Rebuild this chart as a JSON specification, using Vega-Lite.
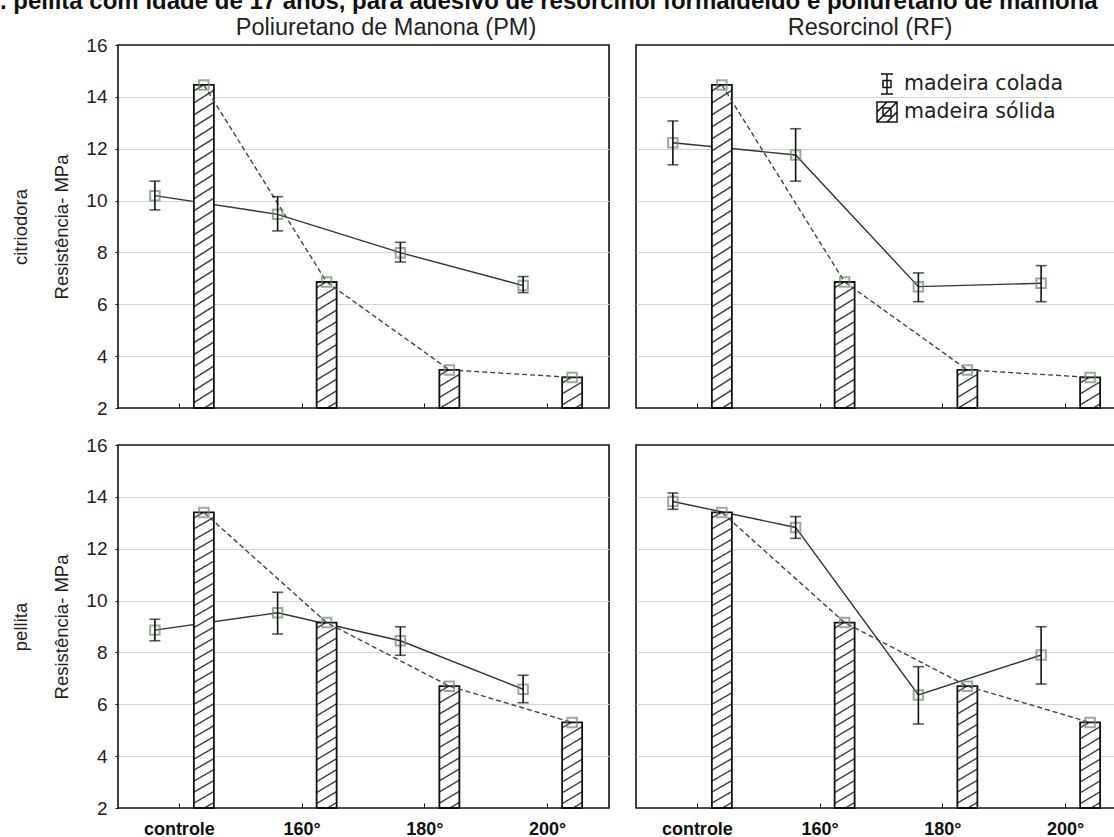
{
  "$schema": "https://vega.github.io/schema/vega-lite/v6.json",
  "background": "white",
  "padding": {"left": -16, "top": -11, "right": -13, "bottom": -3},
  "params": [
    {"name": "gA", "value": {"gradient": "linear", "x1": 0, "y1": 0, "x2": 0.0405, "y2": 1.0374, "stops": [
      {"offset":0.0132,"color":"#fff"},{"offset":0.0179,"color":"#222"},{"offset":0.0225,"color":"#fff"},
      {"offset":0.0489,"color":"#fff"},{"offset":0.0536,"color":"#222"},{"offset":0.0582,"color":"#fff"},
      {"offset":0.0846,"color":"#fff"},{"offset":0.0893,"color":"#222"},{"offset":0.0939,"color":"#fff"},
      {"offset":0.1204,"color":"#fff"},{"offset":0.125,"color":"#222"},{"offset":0.1296,"color":"#fff"},
      {"offset":0.1561,"color":"#fff"},{"offset":0.1607,"color":"#222"},{"offset":0.1654,"color":"#fff"},
      {"offset":0.1918,"color":"#fff"},{"offset":0.1964,"color":"#222"},{"offset":0.2011,"color":"#fff"},
      {"offset":0.2275,"color":"#fff"},{"offset":0.2321,"color":"#222"},{"offset":0.2368,"color":"#fff"},
      {"offset":0.2632,"color":"#fff"},{"offset":0.2679,"color":"#222"},{"offset":0.2725,"color":"#fff"},
      {"offset":0.2989,"color":"#fff"},{"offset":0.3036,"color":"#222"},{"offset":0.3082,"color":"#fff"},
      {"offset":0.3346,"color":"#fff"},{"offset":0.3393,"color":"#222"},{"offset":0.3439,"color":"#fff"},
      {"offset":0.3704,"color":"#fff"},{"offset":0.375,"color":"#222"},{"offset":0.3796,"color":"#fff"},
      {"offset":0.4061,"color":"#fff"},{"offset":0.4107,"color":"#222"},{"offset":0.4154,"color":"#fff"},
      {"offset":0.4418,"color":"#fff"},{"offset":0.4464,"color":"#222"},{"offset":0.4511,"color":"#fff"},
      {"offset":0.4775,"color":"#fff"},{"offset":0.4821,"color":"#222"},{"offset":0.4868,"color":"#fff"},
      {"offset":0.5132,"color":"#fff"},{"offset":0.5179,"color":"#222"},{"offset":0.5225,"color":"#fff"},
      {"offset":0.5489,"color":"#fff"},{"offset":0.5536,"color":"#222"},{"offset":0.5582,"color":"#fff"},
      {"offset":0.5846,"color":"#fff"},{"offset":0.5893,"color":"#222"},{"offset":0.5939,"color":"#fff"},
      {"offset":0.6204,"color":"#fff"},{"offset":0.625,"color":"#222"},{"offset":0.6296,"color":"#fff"},
      {"offset":0.6561,"color":"#fff"},{"offset":0.6607,"color":"#222"},{"offset":0.6654,"color":"#fff"},
      {"offset":0.6918,"color":"#fff"},{"offset":0.6964,"color":"#222"},{"offset":0.7011,"color":"#fff"},
      {"offset":0.7275,"color":"#fff"},{"offset":0.7321,"color":"#222"},{"offset":0.7368,"color":"#fff"},
      {"offset":0.7632,"color":"#fff"},{"offset":0.7679,"color":"#222"},{"offset":0.7725,"color":"#fff"},
      {"offset":0.7989,"color":"#fff"},{"offset":0.8036,"color":"#222"},{"offset":0.8082,"color":"#fff"},
      {"offset":0.8346,"color":"#fff"},{"offset":0.8393,"color":"#222"},{"offset":0.8439,"color":"#fff"},
      {"offset":0.8704,"color":"#fff"},{"offset":0.875,"color":"#222"},{"offset":0.8796,"color":"#fff"},
      {"offset":0.9061,"color":"#fff"},{"offset":0.9107,"color":"#222"},{"offset":0.9154,"color":"#fff"},
      {"offset":0.9418,"color":"#fff"},{"offset":0.9464,"color":"#222"},{"offset":0.9511,"color":"#fff"},
      {"offset":0.9775,"color":"#fff"},{"offset":0.9821,"color":"#222"},{"offset":0.9868,"color":"#fff"}
    ]}},
    {"name": "gB", "value": {"gradient": "linear", "x1": 0, "y1": 0, "x2": 0.0686, "y2": 1.0603, "stops": [
      {"offset":0.0206,"color":"#fff"},{"offset":0.0278,"color":"#222"},{"offset":0.035,"color":"#fff"},
      {"offset":0.0761,"color":"#fff"},{"offset":0.0833,"color":"#222"},{"offset":0.0906,"color":"#fff"},
      {"offset":0.1317,"color":"#fff"},{"offset":0.1389,"color":"#222"},{"offset":0.1461,"color":"#fff"},
      {"offset":0.1872,"color":"#fff"},{"offset":0.1944,"color":"#222"},{"offset":0.2017,"color":"#fff"},
      {"offset":0.2428,"color":"#fff"},{"offset":0.25,"color":"#222"},{"offset":0.2572,"color":"#fff"},
      {"offset":0.2983,"color":"#fff"},{"offset":0.3056,"color":"#222"},{"offset":0.3128,"color":"#fff"},
      {"offset":0.3539,"color":"#fff"},{"offset":0.3611,"color":"#222"},{"offset":0.3683,"color":"#fff"},
      {"offset":0.4094,"color":"#fff"},{"offset":0.4167,"color":"#222"},{"offset":0.4239,"color":"#fff"},
      {"offset":0.465,"color":"#fff"},{"offset":0.4722,"color":"#222"},{"offset":0.4794,"color":"#fff"},
      {"offset":0.5206,"color":"#fff"},{"offset":0.5278,"color":"#222"},{"offset":0.535,"color":"#fff"},
      {"offset":0.5761,"color":"#fff"},{"offset":0.5833,"color":"#222"},{"offset":0.5906,"color":"#fff"},
      {"offset":0.6317,"color":"#fff"},{"offset":0.6389,"color":"#222"},{"offset":0.6461,"color":"#fff"},
      {"offset":0.6872,"color":"#fff"},{"offset":0.6944,"color":"#222"},{"offset":0.7017,"color":"#fff"},
      {"offset":0.7428,"color":"#fff"},{"offset":0.75,"color":"#222"},{"offset":0.7572,"color":"#fff"},
      {"offset":0.7983,"color":"#fff"},{"offset":0.8056,"color":"#222"},{"offset":0.8128,"color":"#fff"},
      {"offset":0.8539,"color":"#fff"},{"offset":0.8611,"color":"#222"},{"offset":0.8683,"color":"#fff"},
      {"offset":0.9094,"color":"#fff"},{"offset":0.9167,"color":"#222"},{"offset":0.9239,"color":"#fff"},
      {"offset":0.965,"color":"#fff"},{"offset":0.9722,"color":"#222"},{"offset":0.9794,"color":"#fff"}
    ]}},
    {"name": "gC", "value": {"gradient": "linear", "x1": 0, "y1": 0, "x2": 0.1054, "y2": 1.0868, "stops": [
      {"offset":0.0309,"color":"#fff"},{"offset":0.0417,"color":"#222"},{"offset":0.0525,"color":"#fff"},
      {"offset":0.1142,"color":"#fff"},{"offset":0.125,"color":"#222"},{"offset":0.1358,"color":"#fff"},
      {"offset":0.1975,"color":"#fff"},{"offset":0.2083,"color":"#222"},{"offset":0.2191,"color":"#fff"},
      {"offset":0.2809,"color":"#fff"},{"offset":0.2917,"color":"#222"},{"offset":0.3025,"color":"#fff"},
      {"offset":0.3642,"color":"#fff"},{"offset":0.375,"color":"#222"},{"offset":0.3858,"color":"#fff"},
      {"offset":0.4475,"color":"#fff"},{"offset":0.4583,"color":"#222"},{"offset":0.4691,"color":"#fff"},
      {"offset":0.5309,"color":"#fff"},{"offset":0.5417,"color":"#222"},{"offset":0.5525,"color":"#fff"},
      {"offset":0.6142,"color":"#fff"},{"offset":0.625,"color":"#222"},{"offset":0.6358,"color":"#fff"},
      {"offset":0.6975,"color":"#fff"},{"offset":0.7083,"color":"#222"},{"offset":0.7191,"color":"#fff"},
      {"offset":0.7809,"color":"#fff"},{"offset":0.7917,"color":"#222"},{"offset":0.8025,"color":"#fff"},
      {"offset":0.8642,"color":"#fff"},{"offset":0.875,"color":"#222"},{"offset":0.8858,"color":"#fff"},
      {"offset":0.9475,"color":"#fff"},{"offset":0.9583,"color":"#222"},{"offset":0.9691,"color":"#fff"}
    ]}},
    {"name": "gD", "value": {"gradient": "linear", "x1": 0, "y1": 0, "x2": 0.1565, "y2": 1.118, "stops": [
      {"offset":0.0412,"color":"#fff"},{"offset":0.0556,"color":"#222"},{"offset":0.07,"color":"#fff"},
      {"offset":0.1523,"color":"#fff"},{"offset":0.1667,"color":"#222"},{"offset":0.1811,"color":"#fff"},
      {"offset":0.2634,"color":"#fff"},{"offset":0.2778,"color":"#222"},{"offset":0.2922,"color":"#fff"},
      {"offset":0.3745,"color":"#fff"},{"offset":0.3889,"color":"#222"},{"offset":0.4033,"color":"#fff"},
      {"offset":0.4856,"color":"#fff"},{"offset":0.5,"color":"#222"},{"offset":0.5144,"color":"#fff"},
      {"offset":0.5967,"color":"#fff"},{"offset":0.6111,"color":"#222"},{"offset":0.6255,"color":"#fff"},
      {"offset":0.7078,"color":"#fff"},{"offset":0.7222,"color":"#222"},{"offset":0.7366,"color":"#fff"},
      {"offset":0.8189,"color":"#fff"},{"offset":0.8333,"color":"#222"},{"offset":0.8477,"color":"#fff"},
      {"offset":0.93,"color":"#fff"},{"offset":0.9444,"color":"#222"},{"offset":0.9588,"color":"#fff"}
    ]}},
    {"name": "gE", "value": {"gradient": "linear", "x1": 0, "y1": 0, "x2": 0.377, "y2": 1.196, "stops": [
      {"offset":0.0814,"color":"#fff"},{"offset":0.11,"color":"#222"},{"offset":0.1386,"color":"#fff"},
      {"offset":0.3014,"color":"#fff"},{"offset":0.33,"color":"#222"},{"offset":0.3586,"color":"#fff"},
      {"offset":0.5214,"color":"#fff"},{"offset":0.55,"color":"#222"},{"offset":0.5786,"color":"#fff"},
      {"offset":0.7414,"color":"#fff"},{"offset":0.77,"color":"#222"},{"offset":0.7986,"color":"#fff"}
    ]}},
    {"name": "gF", "value": {"gradient": "linear", "x1": 0, "y1": 0, "x2": 0.473, "y2": 1.207, "stops": [
      {"offset":0.0954,"color":"#fff"},{"offset":0.129,"color":"#222"},{"offset":0.1626,"color":"#fff"},
      {"offset":0.3534,"color":"#fff"},{"offset":0.387,"color":"#222"},{"offset":0.4206,"color":"#fff"},
      {"offset":0.6114,"color":"#fff"},{"offset":0.645,"color":"#222"},{"offset":0.6786,"color":"#fff"},
      {"offset":0.8694,"color":"#fff"},{"offset":0.903,"color":"#222"},{"offset":0.9366,"color":"#fff"}
    ]}}
  ],
  "title": {"text": "E. pellita com idade de 17 anos, para adesivo de resorcinol formaldeído e poliuretano de mamona", "font": "Liberation Sans", "fontSize": 24, "fontWeight": "bold", "color": "#111", "anchor": "start", "frame": "group", "dx": -134, "baseline": "alphabetic", "offset": -18},
  "data": {"values": [
    {"especie":"citriodora","adesivo":"PM","temp":"controle","tipo":"madeira colada","valor":10.19,"min":9.64,"max":10.75},
    {"especie":"citriodora","adesivo":"PM","temp":"160°","tipo":"madeira colada","valor":9.47,"min":8.83,"max":10.15},
    {"especie":"citriodora","adesivo":"PM","temp":"180°","tipo":"madeira colada","valor":7.99,"min":7.63,"max":8.39},
    {"especie":"citriodora","adesivo":"PM","temp":"200°","tipo":"madeira colada","valor":6.72,"min":6.45,"max":7.07},
    {"especie":"citriodora","adesivo":"PM","temp":"controle","tipo":"madeira sólida","valor":14.46},
    {"especie":"citriodora","adesivo":"PM","temp":"160°","tipo":"madeira sólida","valor":6.86},
    {"especie":"citriodora","adesivo":"PM","temp":"180°","tipo":"madeira sólida","valor":3.47},
    {"especie":"citriodora","adesivo":"PM","temp":"200°","tipo":"madeira sólida","valor":3.18},
    {"especie":"citriodora","adesivo":"RF","temp":"controle","tipo":"madeira colada","valor":12.23,"min":11.38,"max":13.07},
    {"especie":"citriodora","adesivo":"RF","temp":"160°","tipo":"madeira colada","valor":11.76,"min":10.75,"max":12.77},
    {"especie":"citriodora","adesivo":"RF","temp":"180°","tipo":"madeira colada","valor":6.68,"min":6.1,"max":7.21},
    {"especie":"citriodora","adesivo":"RF","temp":"200°","tipo":"madeira colada","valor":6.81,"min":6.1,"max":7.49},
    {"especie":"citriodora","adesivo":"RF","temp":"controle","tipo":"madeira sólida","valor":14.46},
    {"especie":"citriodora","adesivo":"RF","temp":"160°","tipo":"madeira sólida","valor":6.86},
    {"especie":"citriodora","adesivo":"RF","temp":"180°","tipo":"madeira sólida","valor":3.47},
    {"especie":"citriodora","adesivo":"RF","temp":"200°","tipo":"madeira sólida","valor":3.18},
    {"especie":"pellita","adesivo":"PM","temp":"controle","tipo":"madeira colada","valor":8.86,"min":8.45,"max":9.28},
    {"especie":"pellita","adesivo":"PM","temp":"160°","tipo":"madeira colada","valor":9.53,"min":8.71,"max":10.32},
    {"especie":"pellita","adesivo":"PM","temp":"180°","tipo":"madeira colada","valor":8.45,"min":7.89,"max":8.99},
    {"especie":"pellita","adesivo":"PM","temp":"200°","tipo":"madeira colada","valor":6.58,"min":6.06,"max":7.12},
    {"especie":"pellita","adesivo":"PM","temp":"controle","tipo":"madeira sólida","valor":13.4},
    {"especie":"pellita","adesivo":"PM","temp":"160°","tipo":"madeira sólida","valor":9.15},
    {"especie":"pellita","adesivo":"PM","temp":"180°","tipo":"madeira sólida","valor":6.7},
    {"especie":"pellita","adesivo":"PM","temp":"200°","tipo":"madeira sólida","valor":5.3},
    {"especie":"pellita","adesivo":"RF","temp":"controle","tipo":"madeira colada","valor":13.82,"min":13.52,"max":14.15},
    {"especie":"pellita","adesivo":"RF","temp":"160°","tipo":"madeira colada","valor":12.82,"min":12.4,"max":13.24},
    {"especie":"pellita","adesivo":"RF","temp":"180°","tipo":"madeira colada","valor":6.36,"min":5.24,"max":7.45},
    {"especie":"pellita","adesivo":"RF","temp":"200°","tipo":"madeira colada","valor":7.9,"min":6.78,"max":8.99},
    {"especie":"pellita","adesivo":"RF","temp":"controle","tipo":"madeira sólida","valor":13.4},
    {"especie":"pellita","adesivo":"RF","temp":"160°","tipo":"madeira sólida","valor":9.15},
    {"especie":"pellita","adesivo":"RF","temp":"180°","tipo":"madeira sólida","valor":6.7},
    {"especie":"pellita","adesivo":"RF","temp":"200°","tipo":"madeira sólida","valor":5.3}
  ]},
  "columns": 2,
  "bounds": "flush",
  "spacing": {"row": 37, "column": 27},
  "resolve": {"scale": {"shape": "independent"}, "legend": {"shape": "independent"}},
  "concat": [
    {
      "width": 491, "height": 363,
      "title": {"text": "Poliuretano de Manona (PM)", "font": "Liberation Sans", "fontSize": 23.5, "fontWeight": "normal", "color": "#222", "anchor": "middle", "frame": "group", "dx": 22.5, "baseline": "alphabetic", "offset": -22},
      "transform": [{"filter": "datum.especie === 'citriodora' && datum.adesivo === 'PM'"}],
      "encoding": {
        "x": {"field": "temp", "type": "nominal", "sort": ["controle","160°","180°","200°"], "scale": {"paddingInner": 0, "paddingOuter": 0}, "axis": {"labels": false, "title": null, "domain": false, "tickSize": -5, "tickColor": "#111"}},
        "xOffset": {"field": "tipo", "type": "nominal", "scale": {"domain": ["madeira colada","madeira sólida"], "paddingInner": 0, "paddingOuter": 0.2526}},
        "y": {"field": "valor", "type": "quantitative", "scale": {"domain": [2,16], "nice": false, "zero": false}, "axis": {"values": [2,4,6,8,10,12,14,16], "title": ["citriodora","Resistência- MPa"], "titleFontSize": 18.5, "titleFontWeight": "normal", "titleColor": "#222", "titleLineHeight": 41, "titlePadding": 14, "labelFontSize": 19, "labelColor": "#222", "labelPadding": 8, "labelFlush": false, "tickSize": 3, "tickColor": "#111", "domain": false, "grid": true, "gridColor": "#d4d4d4", "gridWidth": 1.2, "gridOpacity": {"condition": {"test": "datum.value === 2 || datum.value === 16", "value": 0}, "value": 1}}}
      },
      "layer": [
        {"transform":[{"filter":"datum.tipo === 'madeira colada'"}],"mark":{"type":"line","color":"#333","strokeWidth":1.4}},
        {"transform":[{"filter":"datum.tipo === 'madeira sólida'"}],"mark":{"type":"bar","width":20,"stroke":"#111","strokeWidth":1.8,"fill":{"expr":"datum.valor > 11 ? gA : datum.valor > 8 ? gB : datum.valor > 6 ? gC : datum.valor > 4.5 ? gD : datum.valor > 3.3 ? gE : gF"}},"encoding":{"y2":{"datum":2}}},
        {"transform":[{"filter":"datum.tipo === 'madeira sólida'"}],"mark":{"type":"line","color":"#444","strokeWidth":1.4,"strokeDash":[5,3]}},
        {"mark":{"type":"point","shape":"square","filled":false,"size":90,"color":"#6b8a6b","strokeWidth":2}},
        {"transform":[{"filter":"datum.tipo === 'madeira colada'"}],"mark":{"type":"rule","color":"#111","strokeWidth":1.6},"encoding":{"y":{"field":"min","type":"quantitative"},"y2":{"field":"max"}}},
        {"transform":[{"filter":"datum.tipo === 'madeira colada'"}],"mark":{"type":"tick","orient":"horizontal","size":11,"thickness":1.6,"color":"#111"},"encoding":{"y":{"field":"min","type":"quantitative"}}},
        {"transform":[{"filter":"datum.tipo === 'madeira colada'"}],"mark":{"type":"tick","orient":"horizontal","size":11,"thickness":1.6,"color":"#111"},"encoding":{"y":{"field":"max","type":"quantitative"}}}
      ]
    },
    {
      "width": 491, "height": 363,
      "title": {"text": "Resorcinol (RF)", "font": "Liberation Sans", "fontSize": 23.5, "fontWeight": "normal", "color": "#222", "anchor": "middle", "frame": "group", "dx": -11.5, "baseline": "alphabetic", "offset": -13},
      "transform": [{"filter": "datum.especie === 'citriodora' && datum.adesivo === 'RF'"}],
      "encoding": {
        "x": {"field": "temp", "type": "nominal", "sort": ["controle","160°","180°","200°"], "scale": {"paddingInner": 0, "paddingOuter": 0}, "axis": {"labels": false, "title": null, "domain": false, "tickSize": -5, "tickColor": "#111"}},
        "xOffset": {"field": "tipo", "type": "nominal", "scale": {"domain": ["madeira colada","madeira sólida"], "paddingInner": 0, "paddingOuter": 0.2526}},
        "y": {"field": "valor", "type": "quantitative", "scale": {"domain": [2,16], "nice": false, "zero": false}, "axis": {"values": [2,4,6,8,10,12,14,16], "title": null, "labels": false, "ticks": false, "domain": false, "grid": true, "gridColor": "#d4d4d4", "gridWidth": 1.2, "gridOpacity": {"condition": {"test": "datum.value === 2 || datum.value === 16", "value": 0}, "value": 1}}}
      },
      "layer": [
        {"transform":[{"filter":"datum.tipo === 'madeira colada'"}],"mark":{"type":"line","color":"#333","strokeWidth":1.4}},
        {"transform":[{"filter":"datum.tipo === 'madeira sólida'"}],"mark":{"type":"bar","width":20,"stroke":"#111","strokeWidth":1.8,"fill":{"expr":"datum.valor > 11 ? gA : datum.valor > 8 ? gB : datum.valor > 6 ? gC : datum.valor > 4.5 ? gD : datum.valor > 3.3 ? gE : gF"}},"encoding":{"y2":{"datum":2}}},
        {"transform":[{"filter":"datum.tipo === 'madeira sólida'"}],"mark":{"type":"line","color":"#444","strokeWidth":1.4,"strokeDash":[5,3]}},
        {"mark":{"type":"point","shape":"square","filled":false,"size":90,"color":"#6b8a6b","strokeWidth":2}},
        {"transform":[{"filter":"datum.tipo === 'madeira colada'"}],"mark":{"type":"rule","color":"#111","strokeWidth":1.6},"encoding":{"y":{"field":"min","type":"quantitative"},"y2":{"field":"max"}}},
        {"transform":[{"filter":"datum.tipo === 'madeira colada'"}],"mark":{"type":"tick","orient":"horizontal","size":11,"thickness":1.6,"color":"#111"},"encoding":{"y":{"field":"min","type":"quantitative"}}},
        {"transform":[{"filter":"datum.tipo === 'madeira colada'"}],"mark":{"type":"tick","orient":"horizontal","size":11,"thickness":1.6,"color":"#111"},"encoding":{"y":{"field":"max","type":"quantitative"}}},
        {"mark":{"type":"point","opacity":0,"filled":false},"encoding":{"shape":{"field":"tipo","type":"nominal","scale":{"domain":["madeira colada","madeira sólida"],"range":["M-0.6,-1H0.6M0,-1V1M-0.6,1H0.6M-0.4,-0.35H0.4V0.35H-0.4Z","M-1,-1H1V1H-1ZM-1,0L0,-1M-1,1L1,-1M0,1L1,0M-0.4,-0.4H0.4V0.4H-0.4Z"]},"legend":{"orient":"none","legendX":240,"legendY":28,"title":null,"symbolSize":400,"symbolStrokeColor":"#111","symbolStrokeWidth":1.5,"symbolFillColor":"transparent","symbolOpacity":1,"labelFont":"DejaVu Sans","labelFontSize":20.5,"labelColor":"#222","labelOffset":6,"rowPadding":2,"padding":0}}}}
      ]
    },
    {
      "width": 491, "height": 363,
      "transform": [{"filter": "datum.especie === 'pellita' && datum.adesivo === 'PM'"}],
      "encoding": {
        "x": {"field": "temp", "type": "nominal", "sort": ["controle","160°","180°","200°"], "scale": {"paddingInner": 0, "paddingOuter": 0}, "axis": {"title": null, "domain": false, "tickSize": -5, "tickColor": "#111", "labelAngle": 0, "labelFontSize": 18, "labelFontWeight": "bold", "labelColor": "#111", "labelPadding": 17}},
        "xOffset": {"field": "tipo", "type": "nominal", "scale": {"domain": ["madeira colada","madeira sólida"], "paddingInner": 0, "paddingOuter": 0.2526}},
        "y": {"field": "valor", "type": "quantitative", "scale": {"domain": [2,16], "nice": false, "zero": false}, "axis": {"values": [2,4,6,8,10,12,14,16], "title": ["pellita","Resistência- MPa"], "titleFontSize": 18.5, "titleFontWeight": "normal", "titleColor": "#222", "titleLineHeight": 41, "titlePadding": 14, "labelFontSize": 19, "labelColor": "#222", "labelPadding": 8, "labelFlush": false, "tickSize": 3, "tickColor": "#111", "domain": false, "grid": true, "gridColor": "#d4d4d4", "gridWidth": 1.2, "gridOpacity": {"condition": {"test": "datum.value === 2 || datum.value === 16", "value": 0}, "value": 1}}}
      },
      "layer": [
        {"transform":[{"filter":"datum.tipo === 'madeira colada'"}],"mark":{"type":"line","color":"#333","strokeWidth":1.4}},
        {"transform":[{"filter":"datum.tipo === 'madeira sólida'"}],"mark":{"type":"bar","width":20,"stroke":"#111","strokeWidth":1.8,"fill":{"expr":"datum.valor > 11 ? gA : datum.valor > 8 ? gB : datum.valor > 6 ? gC : datum.valor > 4.5 ? gD : datum.valor > 3.3 ? gE : gF"}},"encoding":{"y2":{"datum":2}}},
        {"transform":[{"filter":"datum.tipo === 'madeira sólida'"}],"mark":{"type":"line","color":"#444","strokeWidth":1.4,"strokeDash":[5,3]}},
        {"mark":{"type":"point","shape":"square","filled":false,"size":90,"color":"#6b8a6b","strokeWidth":2}},
        {"transform":[{"filter":"datum.tipo === 'madeira colada'"}],"mark":{"type":"rule","color":"#111","strokeWidth":1.6},"encoding":{"y":{"field":"min","type":"quantitative"},"y2":{"field":"max"}}},
        {"transform":[{"filter":"datum.tipo === 'madeira colada'"}],"mark":{"type":"tick","orient":"horizontal","size":11,"thickness":1.6,"color":"#111"},"encoding":{"y":{"field":"min","type":"quantitative"}}},
        {"transform":[{"filter":"datum.tipo === 'madeira colada'"}],"mark":{"type":"tick","orient":"horizontal","size":11,"thickness":1.6,"color":"#111"},"encoding":{"y":{"field":"max","type":"quantitative"}}}
      ]
    },
    {
      "width": 491, "height": 363,
      "transform": [{"filter": "datum.especie === 'pellita' && datum.adesivo === 'RF'"}],
      "encoding": {
        "x": {"field": "temp", "type": "nominal", "sort": ["controle","160°","180°","200°"], "scale": {"paddingInner": 0, "paddingOuter": 0}, "axis": {"title": null, "domain": false, "tickSize": -5, "tickColor": "#111", "labelAngle": 0, "labelFontSize": 18, "labelFontWeight": "bold", "labelColor": "#111", "labelPadding": 17}},
        "xOffset": {"field": "tipo", "type": "nominal", "scale": {"domain": ["madeira colada","madeira sólida"], "paddingInner": 0, "paddingOuter": 0.2526}},
        "y": {"field": "valor", "type": "quantitative", "scale": {"domain": [2,16], "nice": false, "zero": false}, "axis": {"values": [2,4,6,8,10,12,14,16], "title": null, "labels": false, "ticks": false, "domain": false, "grid": true, "gridColor": "#d4d4d4", "gridWidth": 1.2, "gridOpacity": {"condition": {"test": "datum.value === 2 || datum.value === 16", "value": 0}, "value": 1}}}
      },
      "layer": [
        {"transform":[{"filter":"datum.tipo === 'madeira colada'"}],"mark":{"type":"line","color":"#333","strokeWidth":1.4}},
        {"transform":[{"filter":"datum.tipo === 'madeira sólida'"}],"mark":{"type":"bar","width":20,"stroke":"#111","strokeWidth":1.8,"fill":{"expr":"datum.valor > 11 ? gA : datum.valor > 8 ? gB : datum.valor > 6 ? gC : datum.valor > 4.5 ? gD : datum.valor > 3.3 ? gE : gF"}},"encoding":{"y2":{"datum":2}}},
        {"transform":[{"filter":"datum.tipo === 'madeira sólida'"}],"mark":{"type":"line","color":"#444","strokeWidth":1.4,"strokeDash":[5,3]}},
        {"mark":{"type":"point","shape":"square","filled":false,"size":90,"color":"#6b8a6b","strokeWidth":2}},
        {"transform":[{"filter":"datum.tipo === 'madeira colada'"}],"mark":{"type":"rule","color":"#111","strokeWidth":1.6},"encoding":{"y":{"field":"min","type":"quantitative"},"y2":{"field":"max"}}},
        {"transform":[{"filter":"datum.tipo === 'madeira colada'"}],"mark":{"type":"tick","orient":"horizontal","size":11,"thickness":1.6,"color":"#111"},"encoding":{"y":{"field":"min","type":"quantitative"}}},
        {"transform":[{"filter":"datum.tipo === 'madeira colada'"}],"mark":{"type":"tick","orient":"horizontal","size":11,"thickness":1.6,"color":"#111"},"encoding":{"y":{"field":"max","type":"quantitative"}}}
      ]
    }
  ],
  "config": {
    "font": "Liberation Sans",
    "view": {"stroke": "#111", "strokeWidth": 1.6},
    "axis": {"labelFont": "Liberation Sans", "titleFont": "Liberation Sans"}
  }
}
